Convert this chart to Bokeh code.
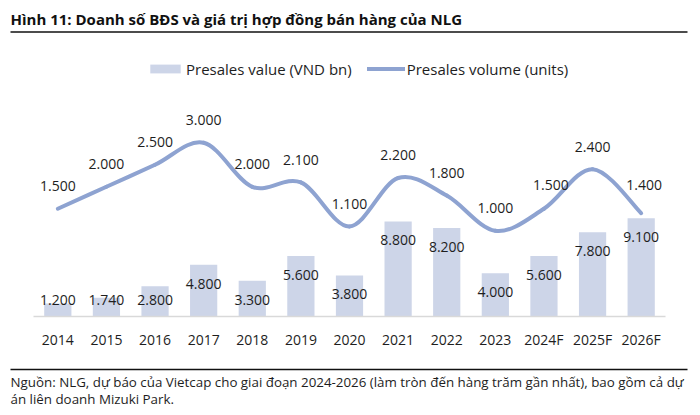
import numpy as np
from bokeh.plotting import figure
from bokeh.models import Range1d, FixedTicker, Label, Legend, LegendItem, ColumnDataSource, BoxAnnotation
from bokeh.layouts import column
from bokeh.embed import file_html
from bokeh.resources import INLINE
from bokeh.core.properties import value

# ---------------- data ----------------
years = ["2014", "2015", "2016", "2017", "2018", "2019", "2020",
         "2021", "2022", "2023", "2024F", "2025F", "2026F"]
presales_value = [1200, 1740, 2800, 4800, 3300, 5600, 3800, 8800, 8200, 4000, 5600, 7800, 9100]
presales_volume = [1500, 2000, 2500, 3000, 2000, 2100, 1100, 2200, 1800, 1000, 1500, 2400, 1400]

TITLE = "Hình 11: Doanh số BĐS và giá trị hợp đồng bán hàng của NLG"
SERIES_BAR = "Presales value (VND bn)"
SERIES_LINE = "Presales volume (units)"
SOURCE_1 = "Nguồn: NLG, dự báo của Vietcap cho giai đoạn 2024-2026 (làm tròn đến hàng trăm gần nhất), bao gồm cả dự"
SOURCE_2 = "án liên doanh Mizuki Park."

# ---------------- style / layout ----------------
FONT = "Open Sans"
TEXT = "#1e1e1e"
BAR_COLOR = "#CDD5E8"
LINE_COLOR = "#8EA3D1"
W = 700
FRAME_H = 316
MAIN_H = 361
FOOT_H = 54
CAT_PX = 48.6
BAR_END = 29260.0
LINE_START, LINE_END = -948.0, 6234.0
LINE_LABEL_DY = -22.5
# small pixel nudges of individual line labels, as placed in the original chart
LINE_LABEL_NUDGE = {"2024F": (7, -1.5), "2026F": (3, -5.5)}

def fmt(v):
    return f"{v:,}".replace(",", ".")

n = len(years)
idx = np.arange(n, dtype=float)
vals = np.array(presales_value, dtype=float)
vols = np.array(presales_volume, dtype=float)

p = figure(width=W, height=MAIN_H, output_backend="svg", toolbar_location=None,
           x_range=Range1d(-0.5 - 33 / CAT_PX, n - 0.5 + 35 / CAT_PX),
           y_range=Range1d(0, BAR_END), y_axis_location=None,
           min_border_left=0, min_border_right=0, min_border_top=0, min_border_bottom=MAIN_H - FRAME_H,
           title=None)
p.extra_y_ranges = {"line": Range1d(LINE_START, LINE_END)}
p.outline_line_color = None
p.xgrid.visible = False
p.ygrid.visible = False

# bars
bar_src = ColumnDataSource(dict(x=idx, top=vals))
bars = p.vbar(x="x", top="top", width=0.56, source=bar_src, fill_color=BAR_COLOR, line_color=None)

# bar labels (inside end, kept above the baseline)
bar_px = FRAME_H / BAR_END
bar_lab_y = np.maximum(vals - 19 / bar_px, 17 / bar_px)
p.text(x=idx, y=bar_lab_y, text=[fmt(v) for v in presales_value],
       text_font=value(FONT), text_font_size="14px", text_color=TEXT,
       text_align="center", text_baseline="middle")

# smoothed line (Catmull-Rom -> cubic Bezier through every data point)
x0, y0, x1, y1, cx0, cy0, cx1, cy1 = ([] for _ in range(8))
for i in range(n - 1):
    a = max(i - 1, 0)
    d = min(i + 2, n - 1)
    x0.append(idx[i]); y0.append(vols[i])
    x1.append(idx[i + 1]); y1.append(vols[i + 1])
    cx0.append(idx[i] + (idx[i + 1] - idx[a]) / 6)
    cy0.append(vols[i] + (vols[i + 1] - vols[a]) / 6)
    cx1.append(idx[i + 1] - (idx[d] - idx[i]) / 6)
    cy1.append(vols[i + 1] - (vols[d] - vols[i]) / 6)
curve = p.bezier(x0=x0, y0=y0, x1=x1, y1=y1, cx0=cx0, cy0=cy0, cx1=cx1, cy1=cy1,
                 y_range_name="line", line_color=LINE_COLOR, line_width=4, line_cap="round")

lab_dx = [LINE_LABEL_NUDGE.get(y, (0, 0))[0] for y in years]
lab_dy = [LINE_LABEL_DY + LINE_LABEL_NUDGE.get(y, (0, 0))[1] for y in years]
line_lab_src = ColumnDataSource(dict(x=idx, y=vols, text=[fmt(v) for v in presales_volume],
                                     dx=lab_dx, dy=lab_dy))
p.text(x="x", y="y", text="text", x_offset="dx", y_offset="dy", source=line_lab_src,
       y_range_name="line", text_font=value(FONT), text_font_size="14px", text_color=TEXT,
       text_align="center", text_baseline="middle")

# x axis
ax = p.xaxis[0]
ax.ticker = FixedTicker(ticks=list(idx))
ax.major_label_overrides = {int(i): y for i, y in enumerate(years)}
ax.bounds = (-0.5, n - 0.5)
ax.axis_line_color = "#D9D9D9"
ax.axis_line_width = 1.5
ax.major_tick_line_color = None
ax.minor_tick_line_color = None
ax.major_tick_out = 0
ax.major_label_standoff = 13
ax.major_label_text_font = FONT
ax.major_label_text_font_size = "14px"
ax.major_label_text_color = TEXT

# legend
legend = Legend(items=[LegendItem(label=SERIES_BAR, renderers=[bars]),
                       LegendItem(label=SERIES_LINE, renderers=[curve])],
                location=(146, 237.5), orientation="horizontal",
                glyph_width=38, glyph_height=11, label_standoff=2, spacing=15,
                label_height=17, padding=0, margin=0, border_line_color=None,
                background_fill_alpha=0, label_text_font=FONT,
                label_text_font_size="15px", label_text_color=TEXT)
p.add_layout(legend)

# title and rule
p.add_layout(Label(x=10, y=FRAME_H - 18, x_units="screen", y_units="screen", text=TITLE,
                   text_font=FONT, text_font_style="bold", text_font_size="15px",
                   text_color="#111111", text_baseline="middle"))
p.add_layout(BoxAnnotation(left=10, right=687, top=FRAME_H - 30.75, bottom=FRAME_H - 32.25,
                           left_units="screen", right_units="screen", top_units="screen",
                           bottom_units="screen", fill_color="#111111", fill_alpha=1,
                           line_color=None))

# footer
f = figure(width=W, height=FOOT_H, output_backend="svg", toolbar_location=None,
           x_range=Range1d(0, W), y_range=Range1d(0, FOOT_H),
           x_axis_location=None, y_axis_location=None, min_border=0, title=None)
f.outline_line_color = None
f.grid.visible = False
f.add_layout(BoxAnnotation(left=10, right=687, top=FOOT_H - 7.25, bottom=FOOT_H - 8.75,
                           left_units="screen", right_units="screen", top_units="screen",
                           bottom_units="screen", fill_color="#111111", fill_alpha=1,
                           line_color=None))
f.add_layout(Label(x=10, y=FOOT_H - 20, x_units="screen", y_units="screen", text=SOURCE_1,
                   text_font=FONT, text_font_size="13.35px", text_color=TEXT, text_baseline="middle"))
f.add_layout(Label(x=10, y=FOOT_H - 37, x_units="screen", y_units="screen", text=SOURCE_2,
                   text_font=FONT, text_font_size="13.35px", text_color=TEXT, text_baseline="middle"))

layout = column(p, f, spacing=0)
open("out.html", "w").write(file_html(layout, INLINE))
